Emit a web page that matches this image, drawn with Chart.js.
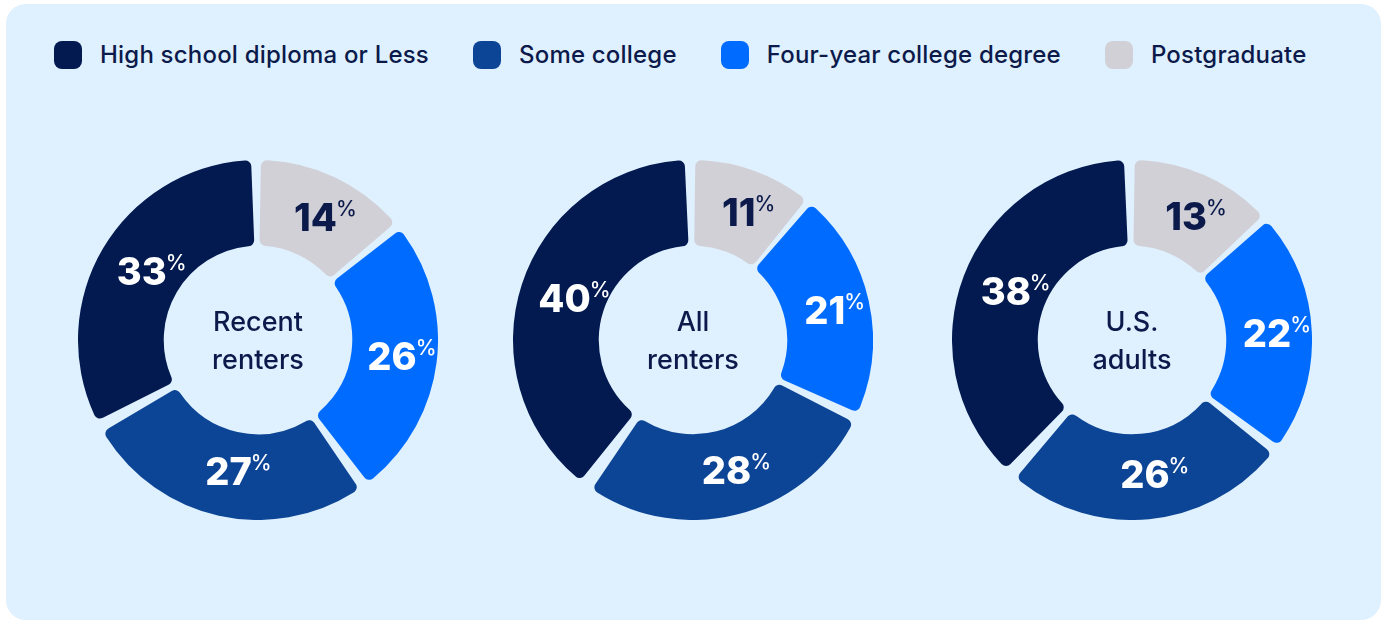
<!DOCTYPE html>
<html>
<head>
<meta charset="utf-8">
<script src="https://cdn.jsdelivr.net/npm/chart.js@4"></script>
<style>
    body { margin: 0; background: #ffffff; font-family: Inter, 'Noto Sans', sans-serif; }
    #wrap { position: relative; width: 1382px; height: 621px; overflow: hidden; }
    #panel { position: absolute; left: 6px; top: 4px; width: 1375px; height: 616px; border-radius: 20px; background: #dff0fe; }
    #legend { position: absolute; left: 54px; top: 40px; display: flex; gap: 44px; align-items: center; }
    .item { display: flex; align-items: center; }
    .swatch { width: 28px; height: 28px; border-radius: 8px; margin-right: 18px; }
    .item span { font-size: 24px; font-weight: 500; color: #0b1a4b; letter-spacing: 0.2px; }
    canvas { position: absolute; }
</style>
</head>
<body>
<div id="wrap">
    <div id="panel"></div>
    <div id="legend"></div>
    <canvas id="c0" width="360" height="360"></canvas>
    <canvas id="c1" width="360" height="360"></canvas>
    <canvas id="c2" width="360" height="360"></canvas>
</div>
<script>
// education levels, in legend order
const levels = ['High school diploma or Less', 'Some college', 'Four-year college degree', 'Postgraduate']
const colors = ['#021a4f', '#0d4596', '#006cff', '#d1d0d6']
const labelColors = ['#ffffff', '#ffffff', '#ffffff', '#0b1a4b']

// groups shown in the middle of each ring
const groups = [['Recent', 'renters'], ['All', 'renters'], ['U.S.', 'adults']]

// share of each group (%) per education level
const recentRenters = [33, 27, 26, 14]
const allRenters = [40, 28, 21, 11]
const usAdults = [38, 26, 22, 13]
const series = [recentRenters, allRenters, usAdults]

// ring centres on the page
const centres = [[258, 340], [693, 340], [1132, 340]]
const size = 360

document.addEventListener('DOMContentLoaded', () => {
    const legend = document.getElementById('legend')
    levels.forEach((name, i) => {
        const item = document.createElement('div')
        item.className = 'item'
        item.innerHTML = '<div class="swatch" style="background:' + colors[i] + '"></div><span>' + name + '</span>'
        legend.appendChild(item)
    })

    // value labels on each slice plus the group name in the hole
    const ringLabels = {
        id: 'ringLabels',
        afterDatasetsDraw(chart) {
            const ctx = chart.ctx
            const arcs = chart.getDatasetMeta(0).data
            const values = chart.data.datasets[0].data
            const fg = chart.data.datasets[0].labelColors
            ctx.save()
            arcs.forEach((arc, i) => {
                const p = arc.getProps(['x', 'y', 'startAngle', 'endAngle', 'innerRadius', 'outerRadius'], true)
                const mid = (p.startAngle + p.endAngle) / 2
                const r = (p.innerRadius + p.outerRadius) / 2 + 3
                const x = p.x + Math.cos(mid) * r
                const y = p.y + Math.sin(mid) * r
                const num = String(values[i])
                ctx.fillStyle = fg[i]
                ctx.font = '800 38px Inter'
                ctx.textAlign = 'center'
                ctx.textBaseline = 'middle'
                ctx.fillText(num, x, y + 2)
                const w = ctx.measureText(num).width
                ctx.font = '500 21px Inter'
                ctx.textAlign = 'left'
                ctx.fillText('%', x + w / 2 - 1, y - 8)
            })
            const c = arcs[0]
            ctx.fillStyle = '#0b1a4b'
            ctx.font = '500 27px Inter'
            ctx.textAlign = 'center'
            ctx.textBaseline = 'middle'
            const lines = chart.options.plugins.ringLabels.lines
            ctx.fillText(lines[0], c.x, c.y - 17)
            ctx.fillText(lines[1], c.x, c.y + 21)
            ctx.restore()
        }
    }

    series.forEach((values, k) => {
        const canvas = document.getElementById('c' + k)
        canvas.style.left = (centres[k][0] - size / 2) + 'px'
        canvas.style.top = (centres[k][1] - size / 2) + 'px'
        // slices run clockwise from the top: postgraduate first
        new Chart(canvas.getContext('2d'), {
            type: 'doughnut',
            data: {
                labels: levels.slice().reverse(),
                datasets: [{
                    data: values.slice().reverse(),
                    backgroundColor: colors.slice().reverse(),
                    labelColors: labelColors.slice().reverse(),
                    borderWidth: 0,
                    borderRadius: 6,
                    spacing: 10
                }]
            },
            options: {
                responsive: false,
                animation: false,
                cutout: '51%',
                layout: { padding: 0 },
                plugins: {
                    legend: { display: false },
                    tooltip: { enabled: false },
                    ringLabels: { lines: groups[k] }
                }
            },
            plugins: [ringLabels]
        })
    })
})
</script>
</body>
</html>
